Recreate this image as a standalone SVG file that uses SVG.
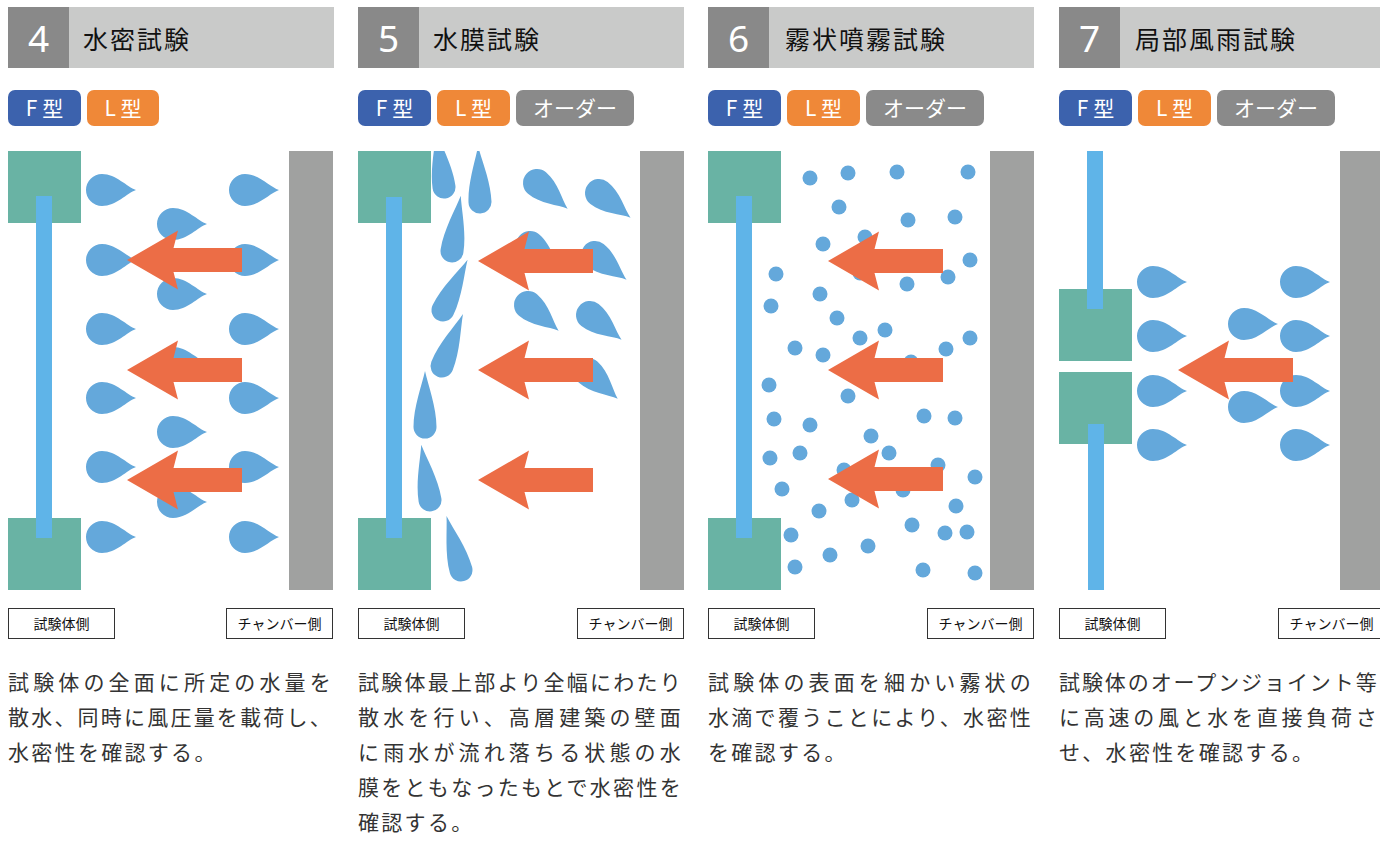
<svg xmlns="http://www.w3.org/2000/svg" xmlns:xlink="http://www.w3.org/1999/xlink" width="1380" height="843" viewBox="0 0 1380 843">
  <style>
    .num { fill: #898989; }
    .bar-bg { fill: #c9cac9; }
    .num-t { font-family: "Noto Sans", "Liberation Sans", sans-serif; font-size: 37px; fill: #ffffff; text-anchor: middle; }
    .ttl { font-family: "Noto Sans CJK JP", sans-serif; font-size: 25px; letter-spacing: 2px; fill: #111111; }
    .badge-t { font-family: "Noto Sans CJK JP", sans-serif; font-size: 21px; fill: #ffffff; text-anchor: middle; }
    .f { fill: #3c62ad; }
    .l { fill: #ef8838; }
    .o { fill: #8a8a8a; }
    .frame { fill: #69b3a4; }
    .glass { fill: #5fb4e8; }
    .wall { fill: #a0a1a0; }
    .drop { fill: #64a8db; }
    .arrow { fill: #ec6d46; }
    .lbl { fill: #ffffff; stroke: #333333; stroke-width: 1; }
    .lbl-t { font-family: "Noto Sans CJK JP", sans-serif; font-size: 14px; fill: #111111; text-anchor: middle; }
    .desc { font-family: "Noto Sans CJK JP", sans-serif; font-size: 21px; fill: #333333; letter-spacing: 2.3px; }
  </style>
  <defs>
    <!-- horizontal wind-driven drop, centre of the round part at origin -->
    <path id="dropH" d="M34,0 C25,3 14,16 0,16 A16,16 0 0 1 0,-16 C14,-16 25,-3 34,0 Z"/>
    <!-- slanted drop -->
    <path id="dropW" d="M40,0 C30,3 16,14 0,14 A14,14 0 0 1 0,-14 C16,-14 30,-3 40,0 Z"/>
    <!-- long falling drop -->
    <path id="dropF" d="M56,0 C42,3 20,11.5 0,11.5 A11.5,11.5 0 0 1 0,-11.5 C20,-11.5 42,-3 56,0 Z"/>
    <!-- pressure arrow, tip at origin -->
    <path id="arrow" d="M0,0 L51,-29.5 L46.5,-12 L115,-12 L115,12 L46.5,12 L51,29.5 Z"/>
    <clipPath id="area">
      <rect x="0" y="151" width="340" height="440"/>
    </clipPath>
  </defs>

  <rect width="1380" height="843" fill="#ffffff"/>

  <!-- 4 水密試験 -->
  <g id="panel-4">
    <rect class="bar-bg" x="69" y="7" width="265" height="61"/>
    <rect class="num" x="8" y="7" width="61" height="61"/>
    <text class="num-t" x="38.5" y="52">4</text>
    <text class="ttl" x="83" y="49">水密試験</text>
    <rect class="f" x="8" y="90" width="73" height="36" rx="7"/>
    <text class="badge-t" x="44.5" y="116">F 型</text>
    <rect class="l" x="87" y="90" width="72" height="36" rx="7"/>
    <text class="badge-t" x="123" y="116">L 型</text>

    <g class="drop">
      <use href="#dropH" x="102" y="190"/><use href="#dropH" x="102" y="260"/><use href="#dropH" x="102" y="329"/>
      <use href="#dropH" x="102" y="398"/><use href="#dropH" x="102" y="467"/><use href="#dropH" x="102" y="537"/>
      <use href="#dropH" x="173" y="224"/><use href="#dropH" x="173" y="294"/><use href="#dropH" x="173" y="363"/>
      <use href="#dropH" x="173" y="432"/><use href="#dropH" x="173" y="502"/>
      <use href="#dropH" x="245" y="190"/><use href="#dropH" x="245" y="260"/><use href="#dropH" x="245" y="329"/>
      <use href="#dropH" x="245" y="398"/><use href="#dropH" x="245" y="467"/><use href="#dropH" x="245" y="537"/>
    </g>
    <rect class="frame" x="8" y="151" width="73" height="72"/>
    <rect class="frame" x="8" y="518" width="73" height="72"/>
    <rect class="glass" x="36" y="196" width="16" height="342"/>
    <rect class="wall" x="289" y="151" width="44" height="439"/>
    <g class="arrow">
      <use href="#arrow" x="127" y="260"/><use href="#arrow" x="127" y="370"/><use href="#arrow" x="127" y="480"/>
    </g>
    <rect class="lbl" x="8.5" y="608.5" width="106" height="30"/>
    <text class="lbl-t" x="61.5" y="628.5">試験体側</text>
    <rect class="lbl" x="226.5" y="608.5" width="106" height="30"/>
    <text class="lbl-t" x="279.5" y="628.5">チャンバー側</text>
    <text class="desc" x="8" y="690" textLength="325" lengthAdjust="spacing">試験体の全面に所定の水量を</text>
    <text class="desc" x="8" y="725" textLength="325" lengthAdjust="spacing">散水、同時に風圧量を載荷し、</text>
    <text class="desc" x="8" y="760">水密性を確認する。</text>
  </g>

  <!-- 5 水膜試験 -->
  <g id="panel-5" transform="translate(350,0)">
    <rect class="bar-bg" x="69" y="7" width="265" height="61"/>
    <rect class="num" x="8" y="7" width="61" height="61"/>
    <text class="num-t" x="38.5" y="52">5</text>
    <text class="ttl" x="83" y="49">水膜試験</text>
    <rect class="f" x="8" y="90" width="73" height="36" rx="7"/>
    <text class="badge-t" x="44.5" y="116">F 型</text>
    <rect class="l" x="87" y="90" width="73" height="36" rx="7"/>
    <text class="badge-t" x="123.5" y="116">L 型</text>
    <rect class="o" x="166" y="90" width="118" height="36" rx="7"/>
    <text class="badge-t" x="225" y="116">オーダー</text>

    <g class="drop" clip-path="url(#area)">
      <use href="#dropF" transform="translate(94,187) rotate(-98)"/>
      <use href="#dropF" transform="translate(130,202) rotate(-92)"/>
      <use href="#dropF" transform="translate(102,251) rotate(-81)"/>
      <use href="#dropF" transform="translate(93,310) rotate(-64)"/>
      <use href="#dropF" transform="translate(92,366) rotate(-68)"/>
      <use href="#dropF" transform="translate(75,427) rotate(-90)"/>
      <use href="#dropF" transform="translate(80,500) rotate(-99)"/>
      <use href="#dropF" transform="translate(111,570) rotate(-105)"/>
      <use href="#dropW" transform="translate(187,183) rotate(40)"/>
      <use href="#dropW" transform="translate(249,193) rotate(38)"/>
      <use href="#dropW" transform="translate(180,245) rotate(40)"/>
      <use href="#dropW" transform="translate(245,255) rotate(38)"/>
      <use href="#dropW" transform="translate(178,305) rotate(40)"/>
      <use href="#dropW" transform="translate(240,315) rotate(38)"/>
      <use href="#dropW" transform="translate(238,372) rotate(42)"/>
    </g>
    <rect class="frame" x="8" y="151" width="73" height="72"/>
    <rect class="frame" x="8" y="518" width="73" height="72"/>
    <rect class="glass" x="36" y="197" width="16" height="341"/>
    <rect class="wall" x="290" y="151" width="44" height="439"/>
    <g class="arrow">
      <use href="#arrow" x="128" y="261"/><use href="#arrow" x="128" y="370"/><use href="#arrow" x="128" y="480"/>
    </g>
    <rect class="lbl" x="8.5" y="608.5" width="106" height="30"/>
    <text class="lbl-t" x="61.5" y="628.5">試験体側</text>
    <rect class="lbl" x="227.5" y="608.5" width="106" height="30"/>
    <text class="lbl-t" x="280.5" y="628.5">チャンバー側</text>
    <text class="desc" x="8" y="690" textLength="325" lengthAdjust="spacing">試験体最上部より全幅にわたり</text>
    <text class="desc" x="8" y="725" textLength="325" lengthAdjust="spacing">散水を行い、高層建築の壁面</text>
    <text class="desc" x="8" y="760" textLength="325" lengthAdjust="spacing">に雨水が流れ落ちる状態の水</text>
    <text class="desc" x="8" y="795" textLength="325" lengthAdjust="spacing">膜をともなったもとで水密性を</text>
    <text class="desc" x="8" y="830">確認する。</text>
  </g>

  <!-- 6 霧状噴霧試験 -->
  <g id="panel-6" transform="translate(700,0)">
    <rect class="bar-bg" x="69" y="7" width="265" height="61"/>
    <rect class="num" x="8" y="7" width="61" height="61"/>
    <text class="num-t" x="38.5" y="52">6</text>
    <text class="ttl" x="85" y="49">霧状噴霧試験</text>
    <rect class="f" x="8" y="90" width="73" height="36" rx="7"/>
    <text class="badge-t" x="44.5" y="116">F 型</text>
    <rect class="l" x="87" y="90" width="73" height="36" rx="7"/>
    <text class="badge-t" x="123.5" y="116">L 型</text>
    <rect class="o" x="166" y="90" width="118" height="36" rx="7"/>
    <text class="badge-t" x="225" y="116">オーダー</text>

    <g class="drop">
      <circle cx="110" cy="178" r="7.5"/><circle cx="148" cy="173" r="7.5"/><circle cx="197" cy="172" r="7.5"/>
      <circle cx="268" cy="172" r="7.5"/><circle cx="139" cy="207" r="7.5"/><circle cx="208" cy="220" r="7.5"/>
      <circle cx="255" cy="217" r="7.5"/><circle cx="123" cy="244" r="7.5"/><circle cx="165" cy="237" r="7.5"/>
      <circle cx="76" cy="274" r="7.5"/><circle cx="160" cy="273" r="7.5"/><circle cx="207" cy="284" r="7.5"/>
      <circle cx="248" cy="277" r="7.5"/><circle cx="270" cy="260" r="7.5"/><circle cx="71" cy="306" r="7.5"/>
      <circle cx="120" cy="294" r="7.5"/><circle cx="137" cy="318" r="7.5"/><circle cx="160" cy="338" r="7.5"/>
      <circle cx="185" cy="330" r="7.5"/><circle cx="95" cy="348" r="7.5"/><circle cx="123" cy="355" r="7.5"/>
      <circle cx="246" cy="349" r="7.5"/><circle cx="270" cy="338" r="7.5"/><circle cx="211" cy="362" r="7.5"/>
      <circle cx="69" cy="385" r="7.5"/><circle cx="148" cy="396" r="7.5"/><circle cx="74" cy="419" r="7.5"/>
      <circle cx="110" cy="425" r="7.5"/><circle cx="224" cy="416" r="7.5"/><circle cx="255" cy="418" r="7.5"/>
      <circle cx="171" cy="436" r="7.5"/><circle cx="70" cy="458" r="7.5"/><circle cx="100" cy="453" r="7.5"/>
      <circle cx="189" cy="453" r="7.5"/><circle cx="144" cy="470" r="7.5"/><circle cx="238" cy="465" r="7.5"/>
      <circle cx="275" cy="477" r="7.5"/><circle cx="82" cy="489" r="7.5"/><circle cx="152" cy="500" r="7.5"/>
      <circle cx="203" cy="490" r="7.5"/><circle cx="119" cy="511" r="7.5"/><circle cx="256" cy="506" r="7.5"/>
      <circle cx="212" cy="525" r="7.5"/><circle cx="91" cy="535" r="7.5"/><circle cx="245" cy="533" r="7.5"/>
      <circle cx="267" cy="532" r="7.5"/><circle cx="168" cy="546" r="7.5"/><circle cx="130" cy="555" r="7.5"/>
      <circle cx="95" cy="567" r="7.5"/><circle cx="223" cy="570" r="7.5"/><circle cx="275" cy="573" r="7.5"/>
    </g>
    <rect class="frame" x="8" y="151" width="73" height="72"/>
    <rect class="frame" x="8" y="518" width="73" height="72"/>
    <rect class="glass" x="36" y="196" width="16" height="342"/>
    <rect class="wall" x="290" y="151" width="44" height="439"/>
    <g class="arrow">
      <use href="#arrow" x="128" y="261"/><use href="#arrow" x="128" y="370"/><use href="#arrow" x="128" y="479"/>
    </g>
    <rect class="lbl" x="8.5" y="608.5" width="106" height="30"/>
    <text class="lbl-t" x="61.5" y="628.5">試験体側</text>
    <rect class="lbl" x="227.5" y="608.5" width="106" height="30"/>
    <text class="lbl-t" x="280.5" y="628.5">チャンバー側</text>
    <text class="desc" x="8" y="690" textLength="325" lengthAdjust="spacing">試験体の表面を細かい霧状の</text>
    <text class="desc" x="8" y="725" textLength="325" lengthAdjust="spacing">水滴で覆うことにより、水密性</text>
    <text class="desc" x="8" y="760">を確認する。</text>
  </g>

  <!-- 7 局部風雨試験 -->
  <g id="panel-7" transform="translate(1051,0)">
    <rect class="bar-bg" x="69" y="7" width="265" height="61"/>
    <rect class="num" x="8" y="7" width="61" height="61"/>
    <text class="num-t" x="38.5" y="52">7</text>
    <text class="ttl" x="84" y="49">局部風雨試験</text>
    <rect class="f" x="8" y="90" width="73" height="36" rx="7"/>
    <text class="badge-t" x="44.5" y="116">F 型</text>
    <rect class="l" x="87" y="90" width="73" height="36" rx="7"/>
    <text class="badge-t" x="123.5" y="116">L 型</text>
    <rect class="o" x="166" y="90" width="118" height="36" rx="7"/>
    <text class="badge-t" x="225" y="116">オーダー</text>

    <g class="drop">
      <use href="#dropH" x="102" y="282"/><use href="#dropH" x="102" y="336"/>
      <use href="#dropH" x="102" y="391"/><use href="#dropH" x="102" y="445"/>
      <use href="#dropH" x="193" y="324"/><use href="#dropH" x="193" y="407"/>
      <use href="#dropH" x="245" y="282"/><use href="#dropH" x="245" y="336"/>
      <use href="#dropH" x="245" y="391"/><use href="#dropH" x="245" y="445"/>
    </g>
    <rect class="frame" x="8" y="289" width="73" height="72"/>
    <rect class="frame" x="8" y="372" width="73" height="72"/>
    <rect class="glass" x="36" y="151" width="16" height="158"/>
    <rect class="glass" x="37" y="424" width="16" height="166"/>
    <rect class="wall" x="289" y="151" width="44" height="439"/>
    <g class="arrow">
      <use href="#arrow" x="127" y="370"/>
    </g>
    <rect class="lbl" x="8.5" y="608.5" width="106" height="30"/>
    <text class="lbl-t" x="61.5" y="628.5">試験体側</text>
    <rect class="lbl" x="227.5" y="608.5" width="106" height="30"/>
    <text class="lbl-t" x="280.5" y="628.5">チャンバー側</text>
    <!-- right-hand column runs to the page edge, so these lines are kept a little tighter -->
    <text class="desc" x="8" y="690" textLength="320" lengthAdjust="spacing">試験体のオープンジョイント等</text>
    <text class="desc" x="8" y="725" textLength="320" lengthAdjust="spacing">に高速の風と水を直接負荷さ</text>
    <text class="desc" x="8" y="760">せ、水密性を確認する。</text>
  </g>
</svg>
